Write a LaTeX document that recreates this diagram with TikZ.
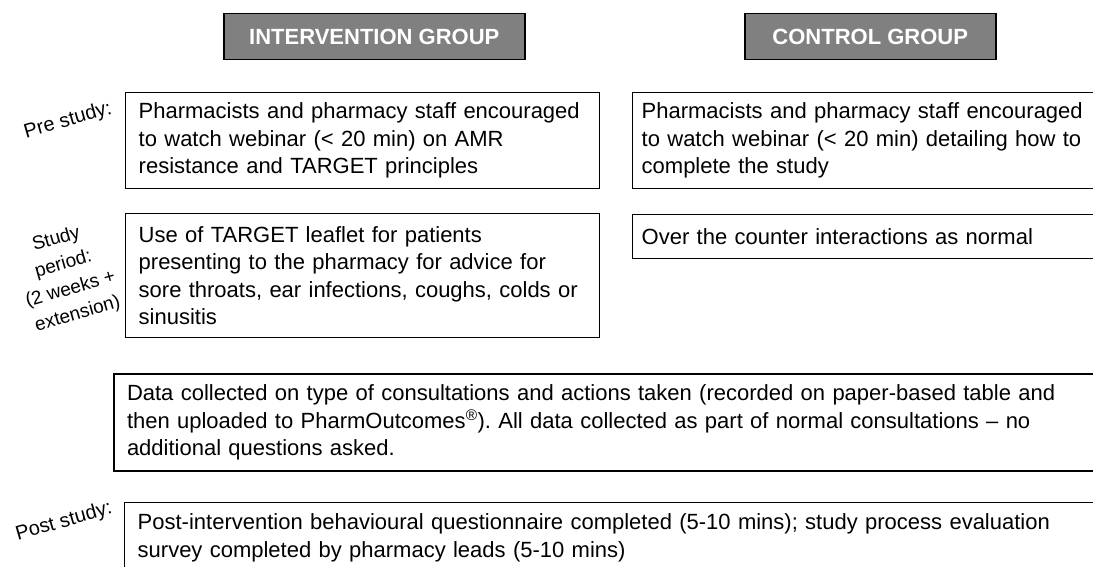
\documentclass[tikz,border=0pt]{standalone}
\usepackage{fontspec}
\setmainfont{Liberation Sans}
\usetikzlibrary{positioning}
\frenchspacing
\begin{document}
\begin{tikzpicture}[
    x=1pt, y=-1pt,
    grouphead/.style={rectangle, draw=black, fill=black!50, line width=1.5pt,
                text=white, font=\fontsize{22}{26}\selectfont\bfseries,
                minimum height=46pt, anchor=north west, inner sep=0pt},
    stagebox/.style={rectangle, draw=black, line width=1.4pt, align=left,
                anchor=north west, inner xsep=13pt, inner ysep=3pt,
                font=\fontsize{22}{27.5}\selectfont},
    phase/.style={rotate=16, align=center, inner sep=1pt,
                font=\fontsize{20}{24}\selectfont},
]
\useasboundingbox (0,0) rectangle (1093,567);
\clip (0,0) rectangle (1093,567);

\node[grouphead, minimum width=301pt] (intHead) at (223,13) {INTERVENTION GROUP};
\node[grouphead, minimum width=251pt] (ctrlHead) at (744,13) {CONTROL GROUP};

\node[phase] (preLbl) at (68,121) {Pre study:};
\node[phase, font=\fontsize{19}{26}\selectfont] (studyLbl) at (67,277)
    {Study\\period:\\(2 weeks +\\extension)};
\node[phase] (postLbl) at (64,522) {Post study:};

\node[stagebox, text width=448pt, minimum height=96pt] (intPre) at (125,92)
    {Pharmacists and pharmacy staff encouraged\\to watch webinar (< 20 min) on AMR\\resistance and TARGET principles};
\node[stagebox, inner xsep=9pt, text width=470pt, minimum height=96pt] (ctrlPre) at (632,92)
    {Pharmacists and pharmacy staff encouraged\\to watch webinar (< 20 min) detailing how to\\complete the study};

\node[stagebox, text width=448pt, minimum height=124pt] (intStudy) at (125,213)
    {Use of TARGET leaflet for patients\\presenting to the pharmacy for advice for\\sore throats, ear infections, coughs, colds or\\sinusitis};
\node[stagebox, inner xsep=9pt, text width=470pt, minimum height=44pt] (ctrlStudy) at (632,214)
    {Over the counter interactions as normal};

\node[stagebox, line width=2pt, text width=1000pt, minimum height=97pt] (dataBox) at (113,373)
    {Data collected on type of consultations and actions taken (recorded on paper-based table and\\then uploaded to PharmOutcomes\textsuperscript{®}). All data collected as part of normal consultations -- no\\additional questions asked.};

\node[stagebox, text width=1000pt, minimum height=70pt] (postBox) at (124,502)
    {Post-intervention behavioural questionnaire completed (5-10 mins); study process evaluation\\survey completed by pharmacy leads (5-10 mins)};
\end{tikzpicture}
\end{document}
